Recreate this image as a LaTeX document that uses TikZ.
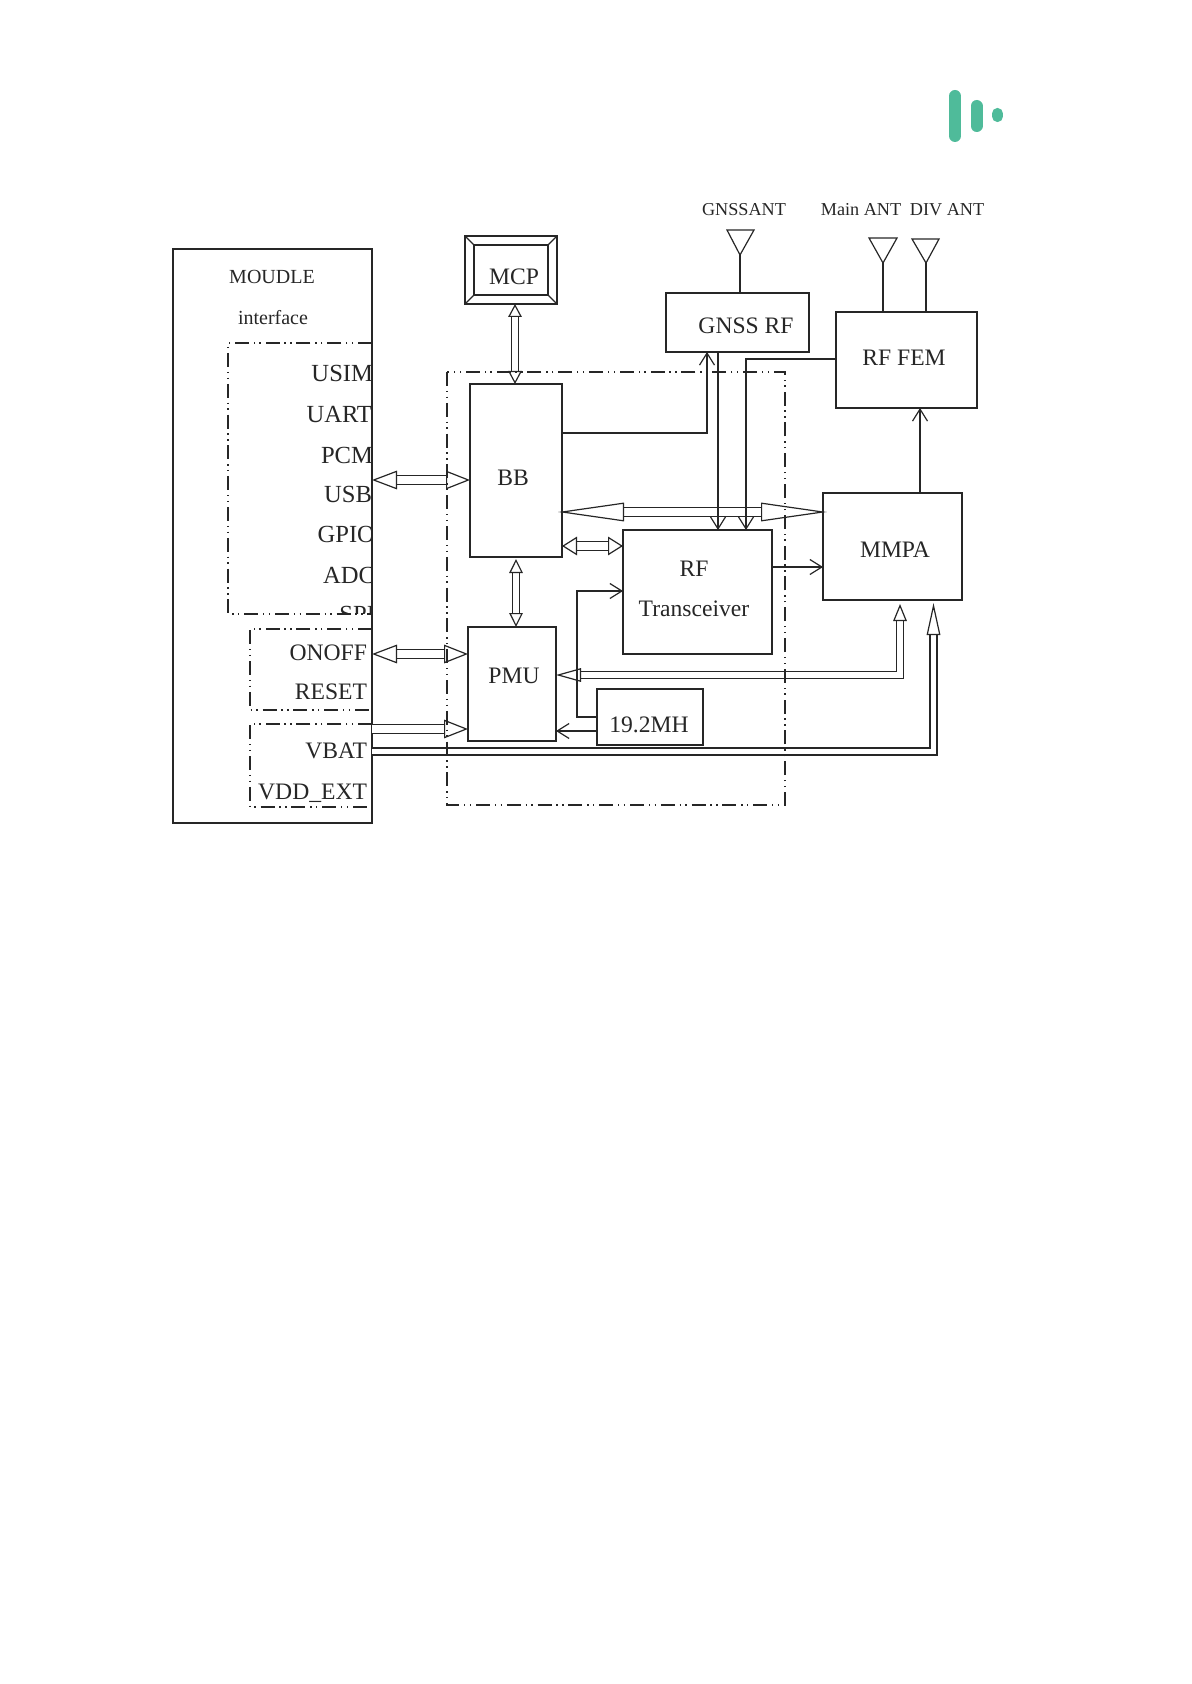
\documentclass[tikz,border=0pt]{standalone}
\usepackage{fontspec}
\setmainfont{Liberation Serif}
\usetikzlibrary{arrows.meta}
\definecolor{ink}{HTML}{262626}
\definecolor{logo}{HTML}{4FBB9A}
\begin{document}
\begin{tikzpicture}[x=0.5pt,y=-0.5pt,line width=0.6pt,draw=ink,
  every node/.style={inner sep=0pt,outer sep=0pt},
  box/.style={draw=ink,fill=none},
  lab/.style={font=\fontsize{11.8}{14}\selectfont,text=ink,text height=7.8pt,text depth=0pt,yshift=-0.5pt},
  sig/.style={lab,anchor=east},
  pin/.style={sig,font=\fontsize{12.3}{14}\selectfont},
  small/.style={font=\fontsize{10}{12}\selectfont,text=ink,text height=6.4pt,text depth=0pt},
  antlab/.style={font=\fontsize{9.1}{12}\selectfont,text=ink,text height=6.2pt,text depth=0pt},
  zone/.style={draw=ink,line width=0.6pt,dash pattern=on 7pt off 2.4pt on 0.7pt off 2.2pt on 0.7pt off 2.4pt},
  arr/.style={draw=ink,-{Straight Barb[length=6pt,width=7.5pt]}},
  ant/.style={draw=ink,line join=miter},
  dbl/.style={draw=ink,line width=0.75pt,double=white,double distance=3.8pt},
  dbln/.style={dbl,double distance=2.6pt},
  hd/.tip={Triangle[open,fill=white,width=9.3pt,line width=0.6pt]},
  hds/.tip={Triangle[open,fill=white,width=6.8pt,line width=0.6pt]}]
  \useasboundingbox (0,0) rectangle (1191,1684);
  % logo
  \draw[logo,line width=6pt,line cap=round] (955,96)--(955,136) (976.5,106)--(976.5,126);
  \draw[logo,line width=5.6pt,line cap=round] (997.5,113.5)--(997.5,116.5);
  % dashed zones
  \draw[zone] (372,343)--(228,343)--(228,614)--(372,614);
  \draw[zone] (372,629)--(250,629)--(250,710)--(372,710);
  \draw[zone] (372,724)--(250,724)--(250,807)--(372,807);
  % blocks
  \node[box,minimum width=99.5pt,minimum height=287pt] (module) at (272.5,536) {};
  \node[box,minimum width=46pt,minimum height=34pt] (mcp) at (511,270) {};
  \node[box,minimum width=37pt,minimum height=25pt] (mcpin) at (511,270) {};
  \draw (mcp.north west)--(mcpin.north west) (mcp.north east)--(mcpin.north east)
    (mcp.south west)--(mcpin.south west) (mcp.south east)--(mcpin.south east);
  \node[box,minimum width=46pt,minimum height=86.5pt] (bb) at (516,470.5) {};
  \node[box,minimum width=44pt,minimum height=57pt] (pmu) at (512,684) {};
  \node[box,minimum width=74.5pt,minimum height=62pt] (rf) at (697.5,592) {};
  \node[box,minimum width=69.5pt,minimum height=53.5pt] (mmpa) at (892.5,546.5) {};
  \node[box,minimum width=70.5pt,minimum height=48pt] (fem) at (906.5,360) {};
  \node[box,minimum width=71.5pt,minimum height=29.5pt] (gnss) at (737.5,322.5) {};
  \node[box,minimum width=53pt,minimum height=28pt] (xo) at (650,717) {};
  % labels
  \node[small] (moudle) at (272,277) {MOUDLE};
  \node[small] (iface) at (273,318) {interface};
  \begin{scope}
    \clip (173,249) rectangle (372,613);
    \node[pin] (usim) at (373,373) {USIM};
    \node[pin] (uart) at (372,414) {UART};
    \node[pin] (pcm) at (373,455) {PCM};
    \node[pin] (usb) at (372,494) {USB};
    \node[pin] (gpio) at (375,534) {GPIO};
    \node[pin] (adc) at (375,575) {ADC};
    \node[pin] (spi) at (375,614) {SPI};
  \end{scope}
  \node[sig] (onoff) at (367,652) {ONOFF};
  \node[sig] (reset) at (367,691) {RESET};
  \node[sig] (vbat) at (367,750) {VBAT};
  \node[sig] (vdd) at (367,791) {VDD\_EXT};
  \node[lab] (mcptxt) at (514,276) {MCP};
  \node[lab] (bbtxt) at (513,477) {BB};
  \node[lab] (pmutxt) at (514,675) {PMU};
  \node[lab] (gnsstxt) at (746,325) {GNSS RF};
  \node[lab] (femtxt) at (904,357) {RF FEM};
  \node[lab] (mmpatxt) at (895,549) {MMPA};
  \node[lab] (rftxt) at (694,568) {RF};
  \node[lab] (trxtxt) at (694,608) {Transceiver};
  \node[lab] (xotxt) at (649,724) {19.2MH};
  \node[antlab] (gnssant) at (744,209) {GNSSANT};
  \node[antlab] (mainant) at (861,209) {Main ANT};
  \node[antlab] (divant) at (947,209) {DIV ANT};
  % antennas
  \coordinate (gnsstip) at (740,255);
  \coordinate (maintip) at (883,263);
  \coordinate (divtip) at (926,263);
  \draw[ant] (727,230)--(754,230)--(gnsstip)--cycle;
  \draw[ant] (869,238)--(897,238)--(maintip)--cycle;
  \draw[ant] (912,239)--(939,239)--(divtip)--cycle;
  \draw (gnsstip)--(gnsstip |- gnss.north);
  \draw (maintip)--(maintip |- fem.north);
  \draw (divtip)--(divtip |- fem.north);
  % wide links
  \draw[dbln,{hds[length=6.5pt]}-{hds[length=6.5pt]}] (mcp.south -| 515,0)--(bb.north -| 515,0);
  \draw[dbln,{hds[length=7pt]}-{hds[length=7pt]}] (516,559)--(pmu.north -| 516,0);
  \draw[dbl,{hd[length=12.5pt]}-{hd[length=12pt]}] (module.east |- 0,480)--(bb.west |- 0,480);
  \draw[dbl,{hd[length=12.5pt]}-{hd[length=12pt]}] (module.east |- 0,654)--(pmu.west |- 0,654);
  \draw[dbl,-{hd[length=12pt]}] (module.east |- 0,729)--(pmu.west |- 0,729);
  \draw[dbl,{hd[length=7.5pt]}-{hd[length=7.5pt]}] (bb.east |- 0,546)--(rf.west |- 0,546);
  \draw[dbl,shorten <=-2pt,shorten >=-2pt,{hd[length=33pt]}-{hd[length=33pt]}] (bb.east |- 0,512)--(mmpa.west |- 0,512);
  \draw[dbln,{hds[length=12.5pt]}-{hds[length=8.5pt]}] (pmu.east |- 0,675)-|(900,604);
  \draw[dbln,-{hds[length=16pt]}] (module.east |- 0,751.5)-|(933.5,603);
  % thin links
  \draw[arr] (bb.east |- 0,433)-|(gnss.south -| 707,0);
  \draw[arr] (gnss.south -| 718,0)--(rf.north -| 718,0);
  \draw[arr] (fem.west |- 0,359)-|(rf.north -| 746,0);
  \draw[arr] (mmpa.north -| 920,0)--(fem.south -| 920,0);
  \draw[arr] (rf.east |- 0,567)--(mmpa.west |- 0,567);
  \draw[arr] (xo.west |- 0,717)-|(577,591)--(rf.west |- 0,591);
  \draw[arr] (xo.west |- 0,731)--(pmu.east |- 0,731);
  % main zone
  \draw[zone] (447,372) rectangle (785,805);
\end{tikzpicture}
\end{document}
